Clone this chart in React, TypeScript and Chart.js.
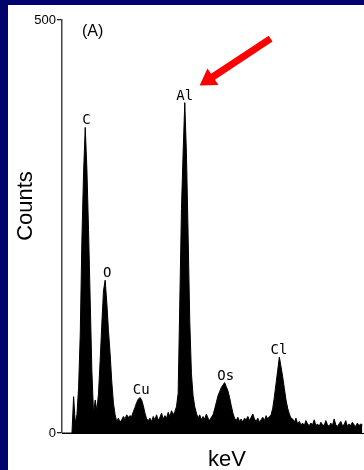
import { useEffect, useRef } from "react";
import { Chart, registerables } from "chart.js";

Chart.register(...registerables);

// EDS spectrum: channel calibration and counts per channel
const CHANNEL_START_KEV = 0;
const KEV_PER_CHANNEL = 0.02;
const counts = [
  0, 0, 0, 0, 0, 0, 0, 44, 12, 22,
  55, 120, 235, 315, 370, 320, 245, 160, 75, 24,
  40, 27, 48, 88, 132, 172, 185, 158, 124, 96,
  62, 36, 22, 14, 18, 13, 16, 20, 17, 22,
  19, 21, 20, 26, 31, 37, 41, 43, 40, 33,
  24, 17, 15, 18, 14, 20, 16, 22, 15, 19,
  24, 17, 21, 18, 25, 20, 27, 22, 26, 32,
  48, 160, 272, 340, 400, 338, 240, 135, 72, 45,
  32, 24, 18, 22, 16, 20, 17, 23, 18, 15,
  19, 22, 29, 37, 45, 50, 55, 58, 61, 56,
  51, 43, 33, 24, 18, 15, 19, 14, 17, 13,
  18, 16, 20, 15, 19, 23, 17, 14, 18, 13,
  16, 19, 15, 21, 17, 20, 22, 30, 44, 60,
  76, 92, 80, 68, 54, 40, 30, 23, 18, 17,
  13, 18, 11, 14, 10, 12, 9, 15, 11, 9,
  12, 10, 16, 9, 11, 8, 13, 10, 9, 15,
  10, 8, 12, 9, 17, 10, 8, 11, 14, 9,
  10, 15, 8, 11, 9, 13, 10, 8, 12, 9,
  11, 10,
];
const yTicks = [0, 500];
const Y_MIN = 0;
const Y_MAX = 500;
const X_MIN = 0;
const X_MAX = 3.64;

const peakLabels = ["C", "O", "Cu", "Al", "Os", "Cl"];
const peakLabelEnergies = [0.295, 0.546, 0.955, 1.478, 1.973, 2.614];
const peakLabelCounts = [370, 185, 43, 400, 61, 92];
const arrowTarget = "Al";

const panelLabel = "(A)";
const xTitle = "keV";
const yTitle = "Counts";

const NAVY = "#03036e";

export default function App() {
  const canvasRef = useRef<HTMLCanvasElement | null>(null);

  useEffect(() => {
    document.body.style.margin = "0";
    const canvas = canvasRef.current;
    if (!canvas) return;

    const annotations = {
      id: "annotations",
      afterDraw(chart: any) {
        const ctx = chart.ctx as CanvasRenderingContext2D;
        const xs = chart.scales.x;
        const ys = chart.scales.y;
        const area = chart.chartArea;
        ctx.save();
        ctx.fillStyle = "#000";

        // peak labels
        ctx.font = "14px 'DejaVu Sans Mono'";
        ctx.textAlign = "center";
        ctx.textBaseline = "alphabetic";
        let tipBase: [number, number] | null = null;
        peakLabels.forEach((lab, i) => {
          const px = xs.getPixelForValue(peakLabelEnergies[i]);
          const py = ys.getPixelForValue(peakLabelCounts[i]) - 3;
          ctx.fillText(lab, px, py);
          if (lab === arrowTarget) tipBase = [px, py];
        });

        // panel label
        ctx.font = "16px 'Liberation Sans'";
        ctx.textAlign = "left";
        ctx.fillText(panelLabel, area.left + 20, area.top + 16);

        // x title
        ctx.font = "22px 'Liberation Sans'";
        ctx.textAlign = "center";
        ctx.fillText(xTitle, area.left + 165, chart.height - 4);

        // y title
        ctx.save();
        ctx.translate(24, area.top + 186);
        ctx.rotate(-Math.PI / 2);
        ctx.fillText(yTitle, 0, 0);
        ctx.restore();

        // red arrow pointing to Al label
        if (tipBase) {
          const [bx, by] = tipBase;
          const tipX = bx + 15, tipY = by - 14;
          const tailX = bx + 86, tailY = by - 61;
          const dx = tipX - tailX, dy = tipY - tailY;
          const len = Math.hypot(dx, dy);
          const ux = dx / len, uy = dy / len;
          const nx = -uy, ny = ux;
          const headLen = 16, headW = 10, shaftW = 3.5;
          const hbx = tipX - ux * headLen, hby = tipY - uy * headLen;
          ctx.fillStyle = "#ff0000";
          ctx.beginPath();
          ctx.moveTo(tailX + nx * shaftW, tailY + ny * shaftW);
          ctx.lineTo(hbx + nx * shaftW, hby + ny * shaftW);
          ctx.lineTo(hbx + nx * headW, hby + ny * headW);
          ctx.lineTo(tipX, tipY);
          ctx.lineTo(hbx - nx * headW, hby - ny * headW);
          ctx.lineTo(hbx - nx * shaftW, hby - ny * shaftW);
          ctx.lineTo(tailX - nx * shaftW, tailY - ny * shaftW);
          ctx.closePath();
          ctx.fill();
        }
        ctx.restore();
      },
    };

    const chart = new Chart(canvas, {
      type: "line",
      data: {
        datasets: [
          {
            data: counts.map((c, i) => ({ x: CHANNEL_START_KEV + i * KEV_PER_CHANNEL, y: c })),
            borderColor: "#000",
            backgroundColor: "#000",
            borderWidth: 1,
            pointRadius: 0,
            fill: "origin",
            tension: 0,
          },
        ],
      },
      options: {
        animation: false,
        responsive: false,
        devicePixelRatio: 1,
        layout: { padding: { top: 15, right: 0, left: 0, bottom: 0 } },
        plugins: {
          legend: { display: false },
          tooltip: { enabled: false },
        },
        scales: {
          x: {
            type: "linear",
            min: X_MIN,
            max: X_MAX,
            ticks: { display: false },
            grid: { display: false },
            border: { display: true, color: "#000", width: 1 },
            afterFit: (s: any) => {
              s.height = 37;
            },
          },
          y: {
            min: Y_MIN,
            max: Y_MAX,
            afterBuildTicks: (s: any) => {
              s.ticks = yTicks.map((v) => ({ value: v }));
            },
            ticks: {
              color: "#000",
              padding: 1,
              font: { family: "'Liberation Sans'", size: 13 },
            },
            grid: {
              drawOnChartArea: false,
              drawTicks: true,
              tickLength: 5,
              color: "#222",
              lineWidth: 1.3,
            },
            border: { display: true, color: "#444", width: 1.5 },
            afterFit: (s: any) => {
              s.width = 54;
            },
          },
        },
      },
      plugins: [annotations],
    });

    return () => chart.destroy();
  }, []);

  return (
    <div style={{ width: 364, height: 470, background: NAVY, position: "relative", overflow: "hidden" }}>
      <canvas
        ref={canvasRef}
        width={356}
        height={465}
        style={{ position: "absolute", left: 8, top: 5, width: 356, height: 465, background: "#fff", display: "block" }}
      />
    </div>
  );
}
